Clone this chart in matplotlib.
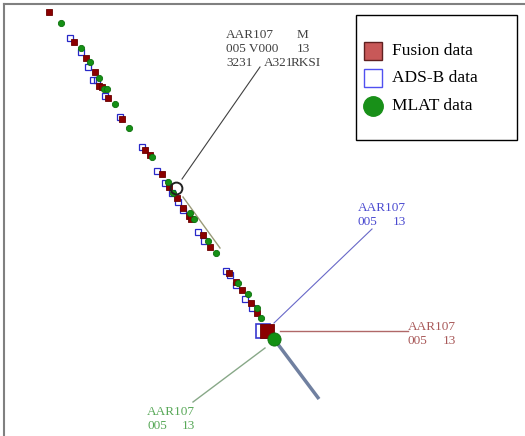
import numpy as np
import matplotlib
matplotlib.use("Agg")
import matplotlib.pyplot as plt
from matplotlib.patches import Rectangle

# screen coordinates (pixels, y downwards) of the plotted track history
fusion_x = [49, 74, 86, 95, 99, 102, 108, 122, 145, 150, 162, 169, 177, 183, 189, 191,
            203, 210, 229, 236, 242, 251, 257]
fusion_y = [12, 42, 58, 72, 86, 87, 98, 119, 150, 155, 174, 187, 198, 208, 216, 219,
            235, 247, 273, 282, 290, 303, 313]

adsb_x = [70, 81, 88, 93, 97, 105, 120, 142, 157, 165, 172, 178, 183, 198, 204,
          226, 230, 236, 245, 252]
adsb_y = [38, 52, 67, 80, 80, 96, 117, 147, 171, 183, 193, 202, 210, 232, 241,
          271, 275, 285, 299, 308]

mlat_x = [61, 81, 90, 99, 104, 107, 115, 129, 152, 168, 173, 190, 194, 208, 216,
          238, 248, 257, 261]
mlat_y = [23, 48, 62, 78, 89, 89, 104, 128, 157, 182, 193, 213, 219, 241, 253,
          283, 294, 308, 318]

# current positions
fusion_now = (267, 331)
adsb_now = (263, 331)
mlat_now = (274, 339)
mlat_heading = (319, 399)

# selected target (other aircraft) and its heading vector
sel_pos = (176, 188)
sel_heading = [(183, 197), (220, 248)]
sel_leader = [(182, 179), (260, 67)]

label_callsign = "AAR107"
label_rows = [["AAR107", "", "M"], ["005 V000", "", "13"], ["3231", "A321", ""]]
label_dest = "RKSI"
small_rows = [["005", "13"]]

serif = ["Liberation Serif", "DejaVu Serif"]

fig = plt.figure(figsize=(5.25, 4.36), dpi=100)
ax = fig.add_axes([4 / 525, 0, 1 - 4 / 525, 1 - 4 / 436])
ax.set_xlim(4, 525)
ax.set_ylim(436, 4)
ax.set_xticks([])
ax.set_yticks([])
for side in ["right", "bottom"]:
    ax.spines[side].set_visible(False)
for side in ["left", "top"]:
    ax.spines[side].set_color("#808080")
    ax.spines[side].set_linewidth(1.5)

# leader lines
ax.plot(*zip(*sel_leader), color="#404040", lw=0.8)
ax.plot(*zip(*sel_heading), color="#9a9a78", lw=1.0)
ax.plot([mlat_now[0], mlat_heading[0]], [mlat_now[1], mlat_heading[1]],
        color="#7080a0", lw=2.5, solid_capstyle="butt")
ax.plot([274, 372], [323, 229], color="#6868c8", lw=0.8)
ax.plot([280, 408], [331, 331], color="#b06868", lw=1.0)
ax.plot([265, 193], [348, 402], color="#88a888", lw=1.0)

# history
ax.plot(adsb_x, adsb_y, "s", ms=5.0, mfc="none", mec="#2828c8", mew=0.9)
ax.plot(fusion_x, fusion_y, "s", ms=4.5, mfc="#8b0000", mec="#6a0000", mew=0.6)
ax.plot(mlat_x, mlat_y, "o", ms=4.5, mfc="#159015", mec="#0c700c", mew=0.6)

# current
ax.plot(*adsb_now, "s", ms=10, mfc="none", mec="#3838d0", mew=1.2)
ax.plot(*fusion_now, "s", ms=10, mfc="#8b0000", mec="#700000", mew=0.6)
ax.plot(*mlat_now, "o", ms=9.5, mfc="#139013", mec="#107010", mew=0.6)
ax.plot(*sel_pos, "o", ms=8.5, mfc="none", mec="#202020", mew=1.4)

# data block of the selected target
cols = [226, 264, 297]
for i, row in enumerate(label_rows):
    for x, s in zip(cols, row):
        ax.text(x, 37.5 + 14 * i, s, family=serif, fontsize=9.5, color="#404040",
                va="baseline", ha="left")
ax.text(291, 37.5 + 28, label_dest, family=serif, fontsize=9.5, color="#404040",
        va="baseline", ha="left")

# data blocks of own track
for (x0, y0, c) in [(358, 211, "#4a4ad0"), (408, 330, "#a85858"), (147, 415, "#58a858")]:
    ax.text(x0, y0, label_callsign, family=serif, fontsize=9.5, color=c, va="baseline")
    ax.text(x0, y0 + 14, small_rows[0][0], family=serif, fontsize=9.5, color=c, va="baseline")
    ax.text(x0 + 35, y0 + 14, small_rows[0][1], family=serif, fontsize=9.5, color=c, va="baseline")

# legend box
ax.add_patch(Rectangle((356, 15), 161, 125, fc="white", ec="black", lw=1.0, zorder=5))
entries = [("Fusion data", dict(marker="s", mfc="#c85858", mec="#602020", ms=13)),
           ("ADS-B data", dict(marker="s", mfc="white", mec="#5050f0", ms=13)),
           ("MLAT data", dict(marker="o", mfc="#189018", mec="#189018", ms=14))]
for i, (name, style) in enumerate(entries):
    yy = 51 + 27.5 * i
    ax.plot(373, yy, ls="none", mew=1.0, zorder=6, **style)
    ax.text(392, yy, name, family=serif, fontsize=12.5, va="center", ha="left", zorder=6)

fig.savefig("out.png", dpi=100)
